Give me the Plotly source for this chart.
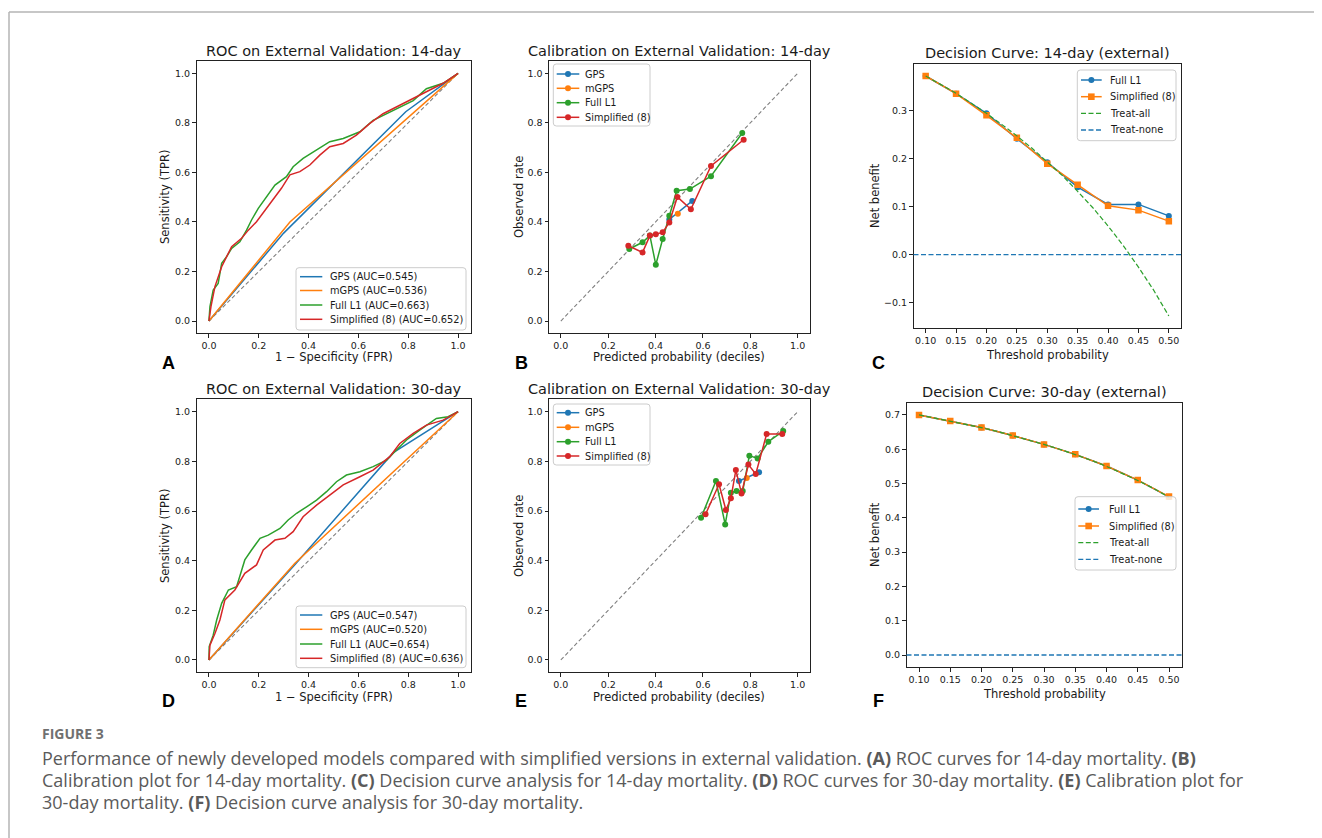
import plotly.graph_objects as go

# ---------------- DATA ----------------
# ROC, 14-day
ROC14_FULL_FPR = [0, 0.004, 0.017, 0.037, 0.051, 0.071, 0.091, 0.124, 0.151, 0.171, 0.198, 0.231, 0.265, 0.311, 0.338, 0.378, 0.432, 0.485, 0.539, 0.606, 0.659, 0.713, 0.753, 0.82, 0.873, 0.94, 1.0]
ROC14_FULL_TPR = [0, 0.058, 0.125, 0.152, 0.233, 0.26, 0.293, 0.32, 0.367, 0.408, 0.455, 0.502, 0.549, 0.583, 0.623, 0.657, 0.69, 0.724, 0.737, 0.764, 0.81, 0.837, 0.857, 0.89, 0.938, 0.96, 1.0]
ROC14_SIMP_FPR = [0, 0.008, 0.024, 0.051, 0.071, 0.091, 0.131, 0.158, 0.191, 0.225, 0.258, 0.291, 0.325, 0.365, 0.405, 0.445, 0.485, 0.539, 0.592, 0.646, 0.699, 0.766, 0.82, 0.873, 0.94, 1.0]
ROC14_SIMP_TPR = [0, 0.058, 0.139, 0.219, 0.26, 0.3, 0.334, 0.367, 0.401, 0.448, 0.495, 0.536, 0.59, 0.603, 0.63, 0.67, 0.704, 0.717, 0.751, 0.798, 0.837, 0.872, 0.899, 0.926, 0.96, 1.0]
ROC14_GPS_FPR = [0, 0.30, 0.79, 1.0]
ROC14_GPS_TPR = [0, 0.355, 0.845, 1.0]
ROC14_MGPS_FPR = [0, 0.325, 1.0]
ROC14_MGPS_TPR = [0, 0.40, 1.0]
ROC14_LABELS = ["GPS (AUC=0.545)", "mGPS (AUC=0.536)", "Full L1 (AUC=0.663)", "Simplified (8) (AUC=0.652)"]

# ROC, 30-day
ROC30_FULL_FPR = [0, 0.001, 0.017, 0.031, 0.051, 0.078, 0.111, 0.124, 0.144, 0.171, 0.205, 0.238, 0.285, 0.318, 0.352, 0.392, 0.432, 0.472, 0.512, 0.552, 0.606, 0.659, 0.713, 0.739, 0.793, 0.846, 0.913, 0.96, 1.0]
ROC30_FULL_TPR = [0, 0.054, 0.1, 0.161, 0.228, 0.282, 0.295, 0.342, 0.403, 0.443, 0.49, 0.503, 0.53, 0.564, 0.591, 0.617, 0.644, 0.678, 0.718, 0.745, 0.758, 0.779, 0.805, 0.832, 0.886, 0.926, 0.973, 0.98, 1.0]
ROC30_SIMP_FPR = [0, 0.004, 0.024, 0.044, 0.064, 0.104, 0.144, 0.191, 0.218, 0.265, 0.305, 0.338, 0.378, 0.432, 0.485, 0.539, 0.606, 0.659, 0.726, 0.766, 0.82, 0.873, 0.94, 1.0]
ROC30_SIMP_TPR = [0, 0.06, 0.107, 0.161, 0.242, 0.282, 0.349, 0.383, 0.443, 0.483, 0.49, 0.517, 0.577, 0.624, 0.664, 0.705, 0.738, 0.765, 0.819, 0.872, 0.913, 0.946, 0.966, 1.0]
ROC30_GPS_FPR = [0, 0.35, 0.74, 1.0]
ROC30_GPS_TPR = [0, 0.39, 0.835, 1.0]
ROC30_MGPS_FPR = [0, 0.345, 1.0]
ROC30_MGPS_TPR = [0, 0.39, 1.0]
ROC30_LABELS = ["GPS (AUC=0.547)", "mGPS (AUC=0.520)", "Full L1 (AUC=0.654)", "Simplified (8) (AUC=0.636)"]

DIAG = [0.0, 1.0]

# Calibration, 14-day
CAL14_GPS_X = [0.458, 0.555]
CAL14_GPS_Y = [0.41, 0.485]
CAL14_MGPS_X = [0.494]
CAL14_MGPS_Y = [0.433]
CAL14_FULL_X = [0.289, 0.345, 0.376, 0.401, 0.430, 0.458, 0.489, 0.545, 0.634, 0.766]
CAL14_FULL_Y = [0.291, 0.318, 0.345, 0.227, 0.331, 0.425, 0.526, 0.533, 0.585, 0.759]
CAL14_SIMP_X = [0.285, 0.345, 0.376, 0.401, 0.430, 0.458, 0.492, 0.549, 0.634, 0.772]
CAL14_SIMP_Y = [0.304, 0.277, 0.345, 0.350, 0.358, 0.398, 0.501, 0.451, 0.626, 0.732]

# Calibration, 30-day
CAL30_GPS_X = [0.752, 0.837]
CAL30_GPS_Y = [0.721, 0.756]
CAL30_MGPS_X = [0.785]
CAL30_MGPS_Y = [0.733]
CAL30_FULL_X = [0.592, 0.655, 0.694, 0.718, 0.742, 0.768, 0.796, 0.831, 0.876, 0.939]
CAL30_FULL_Y = [0.573, 0.721, 0.546, 0.674, 0.681, 0.681, 0.823, 0.812, 0.879, 0.922]
CAL30_SIMP_X = [0.611, 0.668, 0.697, 0.718, 0.739, 0.763, 0.792, 0.823, 0.869, 0.935]
CAL30_SIMP_Y = [0.587, 0.708, 0.604, 0.651, 0.765, 0.671, 0.787, 0.749, 0.91, 0.91]
CAL_LABELS = ["GPS", "mGPS", "Full L1", "Simplified (8)"]

# Decision curves
DCA_THRESH = [0.10, 0.15, 0.20, 0.25, 0.30, 0.35, 0.40, 0.45, 0.50]
DCA14_FULL = [0.373, 0.336, 0.295, 0.242, 0.193, 0.141, 0.105, 0.105, 0.081]
DCA14_SIMP = [0.373, 0.336, 0.291, 0.244, 0.190, 0.146, 0.102, 0.093, 0.070]
DCA30_FULL = [0.700, 0.682, 0.663, 0.640, 0.614, 0.585, 0.551, 0.510, 0.461]
DCA30_SIMP = [0.700, 0.682, 0.663, 0.640, 0.614, 0.585, 0.551, 0.510, 0.462]
TA_THRESH = [0.100, 0.125, 0.150, 0.175, 0.200, 0.225, 0.250, 0.275, 0.300, 0.325, 0.350, 0.375, 0.400, 0.425, 0.450, 0.475, 0.500]
DCA14_ALL = [0.373, 0.355, 0.337, 0.316, 0.295, 0.272, 0.248, 0.222, 0.194, 0.165, 0.132, 0.098, 0.060, 0.019, -0.026, -0.074, -0.128]
DCA30_ALL = [0.700, 0.691, 0.682, 0.673, 0.663, 0.652, 0.640, 0.628, 0.614, 0.600, 0.585, 0.568, 0.550, 0.530, 0.509, 0.486, 0.460]
TREAT_NONE = 0.0
DCA_LABELS = ["Full L1", "Simplified (8)", "Treat-all", "Treat-none"]

TITLES = ["ROC on External Validation: 14-day", "Calibration on External Validation: 14-day", "Decision Curve: 14-day (external)",
          "ROC on External Validation: 30-day", "Calibration on External Validation: 30-day", "Decision Curve: 30-day (external)"]
PANEL_LETTERS = ["A", "B", "C", "D", "E", "F"]
CAPTION_HEAD = "FIGURE 3"
CAPTION_LINES = [
    "Performance of newly developed models compared with simplified versions in external validation. <b>(A)</b> ROC curves for 14-day mortality. <b>(B)</b>",
    "Calibration plot for 14-day mortality. <b>(C)</b> Decision curve analysis for 14-day mortality. <b>(D)</b> ROC curves for 30-day mortality. <b>(E)</b> Calibration plot for",
    "30-day mortality. <b>(F)</b> Decision curve analysis for 30-day mortality.",
]

# ---------------- STYLE / LAYOUT ----------------
# The page body has an 8px margin; positions below are page pixels.
OFF = 8
W, H = 1322 - OFF, 838 - OFF
def PX(x): return (x - OFF) / W
def PY(y): return 1 - (y - OFF) / H

BLUE, ORANGE, GREEN, RED = "#1f77b4", "#ff7f0e", "#2ca02c", "#d62728"
FONT = "DejaVu Sans"
TXT = "#1a1a1a"
DASH = "5px,2.5px"
LW = 1.5

# axes boxes in page pixels: (left, right, top, bottom)
BOX = {
    1: (196.5, 470.5, 61.0, 333.4),
    2: (549.0, 809.5, 61.0, 333.4),
    3: (913.5, 1181.0, 64.0, 328.0),
    4: (196.5, 470.5, 399.3, 672.4),
    5: (549.0, 809.5, 399.3, 672.4),
    6: (906.5, 1181.5, 402.9, 667.0),
}

fig = go.Figure()

def ax(i):
    return ("x" if i == 1 else f"x{i}"), ("y" if i == 1 else f"y{i}")

def add_roc(i, curves):
    xa, ya = ax(i)
    fig.add_trace(go.Scatter(x=DIAG, y=DIAG, mode="lines", xaxis=xa, yaxis=ya, showlegend=False,
                             line=dict(color="#808080", width=1.1, dash="4px,2.5px"), hoverinfo="skip"))
    for (fx, ty), col in zip(curves, [BLUE, ORANGE, GREEN, RED]):
        fig.add_trace(go.Scatter(x=fx, y=ty, mode="lines", xaxis=xa, yaxis=ya, showlegend=False,
                                 line=dict(color=col, width=LW)))

def add_cal(i, pts):
    xa, ya = ax(i)
    fig.add_trace(go.Scatter(x=DIAG, y=DIAG, mode="lines", xaxis=xa, yaxis=ya, showlegend=False,
                             line=dict(color="#808080", width=1.1, dash="4px,2.5px"), hoverinfo="skip"))
    for (px_, py_), col in zip(pts, [BLUE, ORANGE, GREEN, RED]):
        fig.add_trace(go.Scatter(x=px_, y=py_, mode="lines+markers", xaxis=xa, yaxis=ya, showlegend=False,
                                 line=dict(color=col, width=LW), marker=dict(color=col, size=6, symbol="circle")))

def add_dca(i, full, simp, alltr):
    xa, ya = ax(i)
    fig.add_trace(go.Scatter(x=DCA_THRESH, y=full, mode="lines+markers", xaxis=xa, yaxis=ya, showlegend=False,
                             line=dict(color=BLUE, width=LW), marker=dict(color=BLUE, size=6, symbol="circle")))
    fig.add_trace(go.Scatter(x=DCA_THRESH, y=simp, mode="lines+markers", xaxis=xa, yaxis=ya, showlegend=False,
                             line=dict(color=ORANGE, width=LW), marker=dict(color=ORANGE, size=6.5, symbol="square")))
    fig.add_trace(go.Scatter(x=TA_THRESH, y=alltr, mode="lines", xaxis=xa, yaxis=ya, showlegend=False,
                             line=dict(color=GREEN, width=1.2, dash=DASH)))
    fig.add_shape(type="line", xref=f"{xa} domain", yref=ya, x0=0, x1=1, y0=TREAT_NONE, y1=TREAT_NONE,
                  line=dict(color=BLUE, width=1.3, dash=DASH), layer="above")

add_roc(1, [(ROC14_GPS_FPR, ROC14_GPS_TPR), (ROC14_MGPS_FPR, ROC14_MGPS_TPR),
            (ROC14_FULL_FPR, ROC14_FULL_TPR), (ROC14_SIMP_FPR, ROC14_SIMP_TPR)])
add_cal(2, [(CAL14_GPS_X, CAL14_GPS_Y), (CAL14_MGPS_X, CAL14_MGPS_Y),
            (CAL14_FULL_X, CAL14_FULL_Y), (CAL14_SIMP_X, CAL14_SIMP_Y)])
add_dca(3, DCA14_FULL, DCA14_SIMP, DCA14_ALL)
add_roc(4, [(ROC30_GPS_FPR, ROC30_GPS_TPR), (ROC30_MGPS_FPR, ROC30_MGPS_TPR),
            (ROC30_FULL_FPR, ROC30_FULL_TPR), (ROC30_SIMP_FPR, ROC30_SIMP_TPR)])
add_cal(5, [(CAL30_GPS_X, CAL30_GPS_Y), (CAL30_MGPS_X, CAL30_MGPS_Y),
            (CAL30_FULL_X, CAL30_FULL_Y), (CAL30_SIMP_X, CAL30_SIMP_Y)])
add_dca(6, DCA30_FULL, DCA30_SIMP, DCA30_ALL)

axis_base = dict(showline=True, linecolor="#222", linewidth=1, mirror=True, ticks="outside", ticklen=3.5,
                 tickwidth=1, tickcolor="#222", showgrid=False, zeroline=False,
                 tickfont=dict(family=FONT, size=9.5, color=TXT))

unit_ticks = [0, 0.2, 0.4, 0.6, 0.8, 1.0]
ranges = {
    1: ([-0.05, 1.05], [-0.05, 1.05], unit_ticks, unit_ticks, ".1f", ".1f"),
    2: ([-0.05, 1.05], [-0.05, 1.05], unit_ticks, unit_ticks, ".1f", ".1f"),
    3: ([0.08, 0.52], [-0.153, 0.398], DCA_THRESH, [-0.1, 0, 0.1, 0.2, 0.3], ".2f", ".1f"),
    4: ([-0.05, 1.05], [-0.05, 1.05], unit_ticks, unit_ticks, ".1f", ".1f"),
    5: ([-0.05, 1.05], [-0.05, 1.05], unit_ticks, unit_ticks, ".1f", ".1f"),
    6: ([0.08, 0.52], [-0.035, 0.735], DCA_THRESH, [0, 0.1, 0.2, 0.3, 0.4, 0.5, 0.6, 0.7], ".2f", ".1f"),
}
layout_axes = {}
for i in range(1, 7):
    l, r, t, b = BOX[i]
    xr, yr, xt, yt, xf, yf = ranges[i]
    xname = "xaxis" if i == 1 else f"xaxis{i}"
    yname = "yaxis" if i == 1 else f"yaxis{i}"
    xa, ya = ax(i)
    layout_axes[xname] = dict(axis_base, domain=[PX(l), PX(r)], range=xr, tickvals=xt, tickformat=xf, anchor=ya)
    layout_axes[yname] = dict(axis_base, domain=[PY(b), PY(t)], range=yr, tickvals=yt, tickformat=yf, anchor=xa)

ann = []
shapes = []

def text(x, y, s, size, color=TXT, family=FONT, xanchor="center", angle=0):
    ann.append(dict(x=PX(x), y=PY(y), xref="paper", yref="paper", text=s, showarrow=False,
                    xanchor=xanchor, yanchor="middle", textangle=angle,
                    font=dict(family=family, size=size, color=color)))

def rounded_rect(l, r, t, b, rad=3):
    p = (f"M {PX(l+rad)},{PY(t)} L {PX(r-rad)},{PY(t)} Q {PX(r)},{PY(t)} {PX(r)},{PY(t+rad)} "
         f"L {PX(r)},{PY(b-rad)} Q {PX(r)},{PY(b)} {PX(r-rad)},{PY(b)} "
         f"L {PX(l+rad)},{PY(b)} Q {PX(l)},{PY(b)} {PX(l)},{PY(b-rad)} "
         f"L {PX(l)},{PY(t+rad)} Q {PX(l)},{PY(t)} {PX(l+rad)},{PY(t)} Z")
    return dict(type="path", xref="paper", yref="paper", path=p, fillcolor="rgba(255,255,255,0.8)",
                line=dict(color="#cccccc", width=1), layer="above")

def legend(box, hx0, hx1, tx, ys, items):
    l, r, t, b = box
    shapes.append(rounded_rect(l, r, t, b))
    for y, (label, color, dash, marker) in zip(ys, items):
        shapes.append(dict(type="line", xref="paper", yref="paper", x0=PX(hx0), x1=PX(hx1), y0=PY(y), y1=PY(y),
                           line=dict(color=color, width=LW if dash == "solid" else 1.3, dash=dash), layer="above"))
        cx = (hx0 + hx1) / 2
        if marker == "circle":
            shapes.append(dict(type="circle", xref="paper", yref="paper", x0=PX(cx - 3), x1=PX(cx + 3),
                               y0=PY(y - 3), y1=PY(y + 3), fillcolor=color, line=dict(width=0), layer="above"))
        elif marker == "square":
            shapes.append(dict(type="rect", xref="paper", yref="paper", x0=PX(cx - 3.3), x1=PX(cx + 3.3),
                               y0=PY(y - 3.3), y1=PY(y + 3.3), fillcolor=color, line=dict(width=0), layer="above"))
        text(tx, y, label, 9.8, xanchor="left")

roc_items14 = [(lab, c, "solid", None) for lab, c in zip(ROC14_LABELS, [BLUE, ORANGE, GREEN, RED])]
roc_items30 = [(lab, c, "solid", None) for lab, c in zip(ROC30_LABELS, [BLUE, ORANGE, GREEN, RED])]
cal_items = [(lab, c, "solid", "circle") for lab, c in zip(CAL_LABELS, [BLUE, ORANGE, GREEN, RED])]
dca_items = [(DCA_LABELS[0], BLUE, "solid", "circle"), (DCA_LABELS[1], ORANGE, "solid", "square"),
             (DCA_LABELS[2], GREEN, DASH, None), (DCA_LABELS[3], BLUE, DASH, None)]

legend((296, 466, 267.7, 330), 300, 322.3, 328.3, [276.7, 290.5, 305, 319.3], roc_items14)
legend((553.3, 650, 64, 126), 556.7, 579.3, 583.3, [74, 88.3, 102.7, 117.3], cal_items)
legend((1077.3, 1176, 70, 140.7), 1081, 1101.7, 1108.3, [80, 96.7, 113.3, 130], dca_items)
legend((296, 466, 606, 667.7), 300, 322.3, 328.3, [615, 629.3, 644, 658.3], roc_items30)
legend((553.3, 650, 404, 465), 556.7, 579.3, 583.3, [412.7, 427.3, 441.7, 456], cal_items)
legend((1075, 1176, 496.7, 570), 1078.3, 1099, 1106.7, [509, 526, 542.7, 559.3], dca_items)

title_pos = [(333.5, 51), (679.3, 51), (1047, 53), (333.5, 389), (679.3, 389), (1044, 392)]
for (x, y), s in zip(title_pos, TITLES):
    text(x, y, s, 14.5)

xlab = [("1 \u2212 Specificity (FPR)", 333.5, 357.5), ("Predicted probability (deciles)", 679.3, 357.5),
        ("Threshold probability", 1047, 355), ("1 \u2212 Specificity (FPR)", 333.5, 696.5),
        ("Predicted probability (deciles)", 679.3, 696.5), ("Threshold probability", 1044, 694)]
for s, x, y in xlab:
    text(x, y, s, 11.5)
ylab = [("Sensitivity (TPR)", 165, 197), ("Observed rate", 519, 197), ("Net benefit", 875, 196),
        ("Sensitivity (TPR)", 165, 536), ("Observed rate", 519, 536), ("Net benefit", 875, 535)]
for s, x, y in ylab:
    text(x, y, s, 11.5, angle=-90)

letter_pos = [(168, 363), (521, 363), (878, 363), (168, 701), (521, 701), (878, 701)]
for (x, y), s in zip(letter_pos, PANEL_LETTERS):
    text(x, y, f"<b>{s}</b>", 18, color="#000", family="Liberation Sans")

text(40, 733, f"<b>{CAPTION_HEAD}</b>", 14, color="#707070", family="Open Sans", xanchor="left")
for k, line in enumerate(CAPTION_LINES):
    text(40, 758 + 22 * k, line, 18, color="#5a5a5a", family="Open Sans", xanchor="left")

shapes.append(dict(type="line", xref="paper", yref="paper", x0=PX(9), x1=1, y0=PY(12), y1=PY(12),
                   line=dict(color="#b5b5b5", width=1.5)))
shapes.append(dict(type="line", xref="paper", yref="paper", x0=PX(9), x1=PX(9), y0=PY(12), y1=0,
                   line=dict(color="#b5b5b5", width=1.5)))
for s in shapes:
    fig.add_shape(**s)

fig.update_layout(width=W, height=H, margin=dict(l=0, r=0, t=0, b=0), paper_bgcolor="white",
                  plot_bgcolor="white", annotations=ann, showlegend=False, **layout_axes)

fig.write_html("out.html")
